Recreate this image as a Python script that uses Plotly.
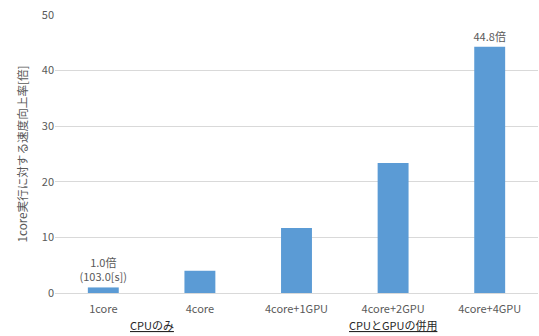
import plotly.graph_objects as go

categories = ["1core", "4core", "4core+1GPU", "4core+2GPU", "4core+4GPU"]
speedup = [1.0, 4.0, 11.7, 23.4, 44.3]
bar_labels = ["1.0倍<br>(103.0[s])", "", "", "", "44.8倍"]
y_ticks = [0, 10, 20, 30, 40, 50]
groups = [("CPUのみ", 0.5), ("CPUとGPUの併用", 3.0)]

FONT = "Noto Sans CJK JP, Noto Sans, sans-serif"
GRAY = "#595959"

fig = go.Figure()
fig.add_trace(go.Bar(
    x=categories, y=speedup,
    marker=dict(color="#5b9bd5", line=dict(width=0)),
    width=0.32,
    text=bar_labels, textposition="outside",
    constraintext="none",
    textfont=dict(family=FONT, size=11, color=GRAY),
    cliponaxis=False,
    hoverinfo="x+y",
))

for name, xc in groups:
    fig.add_annotation(
        x=xc, xref="x", y=-0.115, yref="paper",
        text="<u>" + name + "</u>", showarrow=False,
        font=dict(family=FONT, size=11, color="#262626"),
        yanchor="middle",
    )

fig.update_layout(
    width=539, height=336,
    margin=dict(l=55, r=1, t=15, b=43),
    paper_bgcolor="white", plot_bgcolor="white",
    showlegend=False,
    font=dict(family=FONT, size=11, color=GRAY),
    xaxis=dict(
        showline=False, showgrid=False, zeroline=False,
        tickfont=dict(family=FONT, size=11, color=GRAY),
        ticks="", ticklen=0, ticklabelstandoff=8,
        range=[-0.5, 4.5],
    ),
    yaxis=dict(
        range=[0, 50], tickvals=y_ticks,
        showgrid=True, gridcolor="#d9d9d9", gridwidth=1,
        zeroline=True, zerolinecolor="#d9d9d9", zerolinewidth=1,
        showline=False, ticks="",
        tickfont=dict(family=FONT, size=11, color=GRAY),
        title=dict(text="1core実行に対する速度向上率[倍]",
                   font=dict(family=FONT, size=11.6, color=GRAY), standoff=11),
    ),
)

fig.write_html("out.html")
